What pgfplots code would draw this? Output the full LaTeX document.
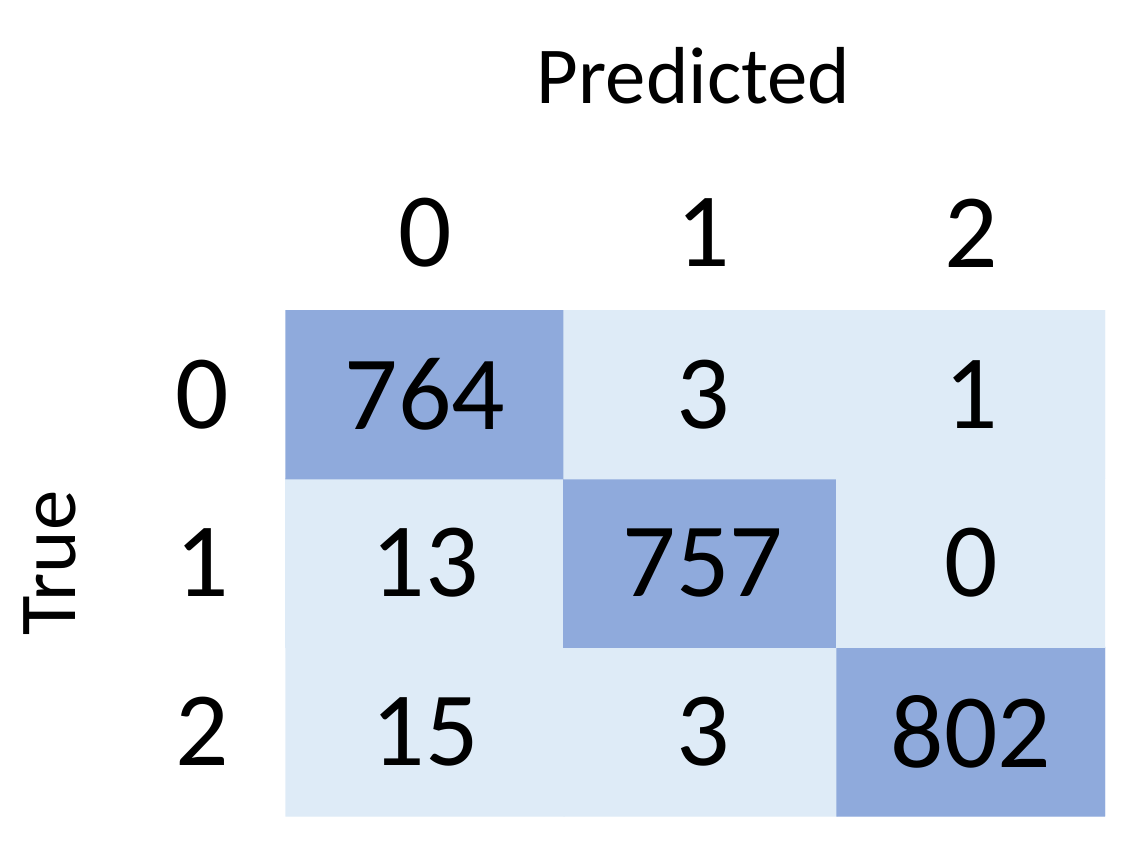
\documentclass[border=0pt]{standalone}
\usepackage{fontspec}
\setmainfont{Carlito}
\usepackage{pgfplots}
\pgfplotsset{compat=1.18}
\definecolor{cmdark}{HTML}{8FAADC}
\definecolor{cmlight}{HTML}{DEEBF7}

% confusion matrix, column centres as in the reference (first column a bit wider)
% row y=2 is True=0
\pgfplotstableread{
x y c
425 0 15
703 0 3
971 0 802
425 1 13
703 1 757
971 1 0
425 2 764
703 2 3
971 2 1
}\cmdata

\begin{document}
\begin{tikzpicture}
\path[use as bounding box] (0,0) rectangle (11.35cm,8.59cm);
\begin{axis}[
    at={(2.82cm,0.43cm)}, anchor=south west,
    scale only axis, width=8.23cm, height=5.06cm,
    xmin=282, xmax=1105, ymin=-0.5, ymax=2.5,
    axis line style={draw=none},
    major tick length=0pt,
    xtick={425,703,971}, ytick={0,1,2},
    xticklabels={0,1,2}, yticklabels={2,1,0},
    xticklabel pos=upper,
    ticklabel style={font=\fontsize{30}{36}\selectfont},
    xticklabel style={anchor=center, yshift=0.77cm},
    yticklabel style={anchor=center, xshift=-0.80cm},
    /pgf/number format/assume math mode=true,
    xlabel={Predicted}, ylabel={True},
    label style={font=\fontsize{23}{28}\selectfont},
    xlabel style={at={(axis description cs:0.5,1.464)}, anchor=center},
    ylabel style={at={(axis description cs:-0.282,0.5)}, anchor=center},
    colormap={cm}{color(0)=(cmlight) color(500)=(cmlight) color(501)=(cmdark) color(1000)=(cmdark)},
    point meta min=0, point meta max=1000,
]
\addplot[matrix plot*, mesh/cols=3, point meta=explicit, draw=none] table[meta=c] {\cmdata};
\addplot[only marks, mark=none, nodes near coords, point meta=explicit symbolic,
    nodes near coords style={anchor=center, font=\fontsize{30}{36}\selectfont}] table[meta=c] {\cmdata};
\end{axis}
\end{tikzpicture}
\end{document}
